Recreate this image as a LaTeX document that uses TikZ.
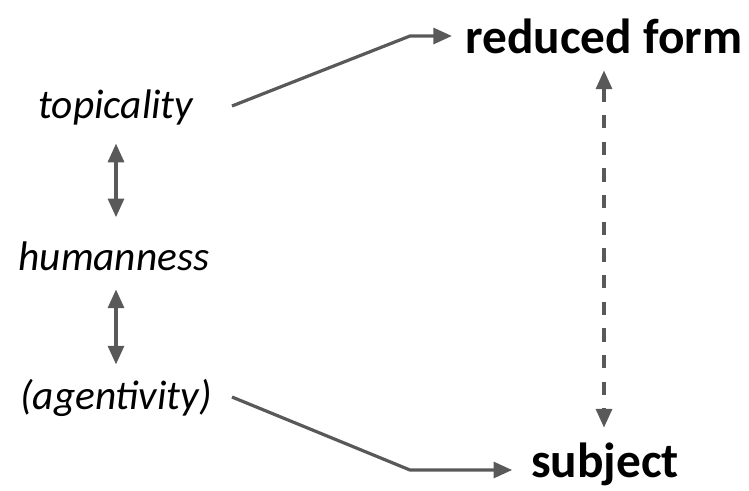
\documentclass[tikz,border=0pt]{standalone}
\usepackage{fontspec}
\setmainfont{Carlito}
\usetikzlibrary{arrows.meta}
\definecolor{linegray}{HTML}{595959}
\tikzset{
  cause/.style={font=\fontsize{31}{36}\selectfont\itshape, inner sep=0pt},
  effect/.style={font=\fontsize{37}{42}\selectfont\bfseries, inner sep=0pt},
  link/.style={draw=linegray, line width=2.4pt, -{Triangle[length=14pt,width=12pt]}},
  duallink/.style={draw=linegray, line width=2.4pt, {Triangle[length=14pt,width=12pt]}-{Triangle[length=14pt,width=12pt]}}
}
\begin{document}
\begin{tikzpicture}[x=0.75pt,y=-0.75pt]
		\useasboundingbox (0,0) rectangle (749,490);
		\node[cause] (topic) at (116,107) {topicality};
		\node[cause] (human) at (114,256) {humanness};
		\node[cause] (agent) at (116,398) {(agentivity)};
		\node[effect] (reduced) at (604,36) {reduced form};
		\node[effect] (subj) at (605,464) {subject};
		
		%start points and bends of the two links
		\coordinate (topicout) at (232,106);
		\coordinate (agentout) at (232,397);
		\coordinate (bendtop) at (410,36);
		\coordinate (bendbot) at (410,470);
		
		\draw[link] (topicout) -- (bendtop) -- ([xshift=-10]bendtop -| reduced.west);
		\draw[link] (agentout) -- (bendbot) -- ([xshift=-14]bendbot -| subj.west);
		
		\draw[duallink] ([yshift=-14]topic.south) -- ([yshift=18]topic.south |- human.north);
		\draw[duallink] ([yshift=-14]topic.south |- human.south) -- ([yshift=11]topic.south |- agent.north);
		\draw[duallink, dash pattern=on 10pt off 10pt] ([yshift=-12.5]reduced.south) -- ([yshift=11]reduced.south |- subj.north);
		\end{tikzpicture}
\end{document}
